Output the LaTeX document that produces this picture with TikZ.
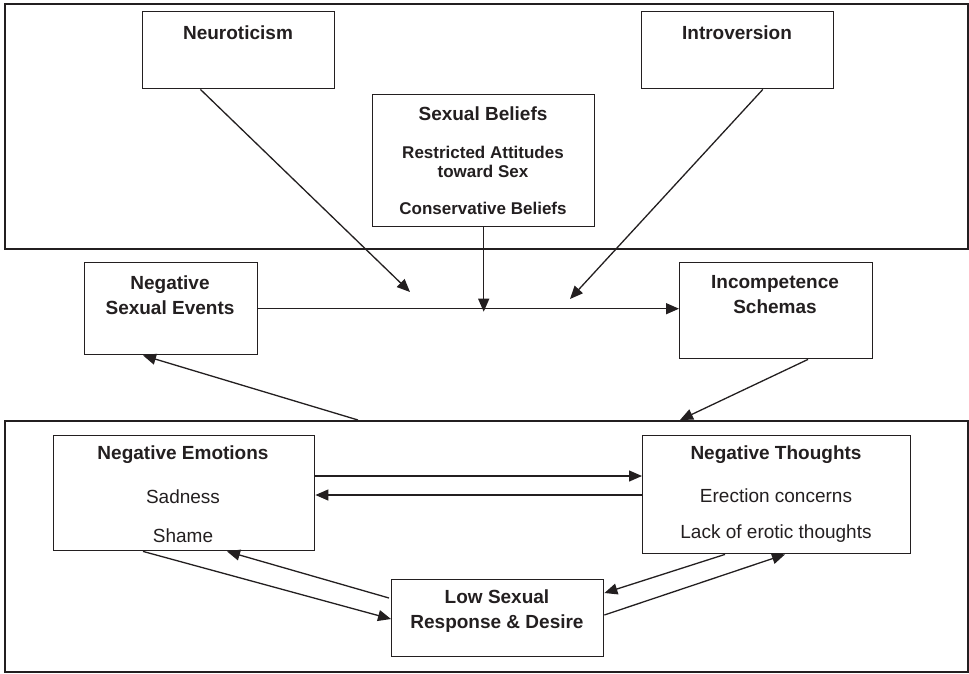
\documentclass[tikz,border=0pt]{standalone}
\usepackage{fontspec}
\setmainfont{Liberation Sans}
\usetikzlibrary{arrows.meta,calc}
\definecolor{ink}{HTML}{231F20}
\begin{document}
\begin{tikzpicture}[x=1pt,y=-1pt,
  frame/.style={draw=ink,line width=2pt},
  box/.style={draw=ink,line width=1.4pt,rectangle,inner sep=0pt,anchor=north west},
  head/.style={text=ink,inner sep=0pt,font=\fontsize{19}{25}\selectfont\bfseries,align=center},
  sub/.style={text=ink,inner sep=0pt,font=\fontsize{17}{18.5}\selectfont\bfseries,align=center},
  item/.style={text=ink,inner sep=0pt,font=\fontsize{19}{23}\selectfont,align=center},
  arr/.style={draw=ink,line width=1.3pt,-{Triangle[length=13pt,width=11pt]}}]
\useasboundingbox (0,0) rectangle (969,673);
\fill[white] (0,0) rectangle (969,673);
% frames
\node[box,frame,minimum width=963pt,minimum height=245pt] (topf) at (4,3) {};
\node[box,frame,minimum width=963pt,minimum height=251pt] (botf) at (4,420) {};
% boxes
\node[box,minimum width=192pt,minimum height=77pt] (neur) at (142,11) {};
\node[box,minimum width=192pt,minimum height=77pt] (intro) at (641,11) {};
\node[box,minimum width=222pt,minimum height=132pt] (bel) at (372,94) {};
\node[box,minimum width=173pt,minimum height=92pt] (nse) at (84,262) {};
\node[box,minimum width=193pt,minimum height=96pt] (inc) at (679,262) {};
\node[box,minimum width=261pt,minimum height=115pt] (nemo) at (53,435) {};
\node[box,minimum width=268pt,minimum height=118pt] (nth) at (642,435) {};
\node[box,minimum width=212pt,minimum height=77pt] (low) at (391,579) {};
% texts
\node[head] (tneur) at (238,33) {Neuroticism};
\node[head] (tintro) at (737,33) {Introversion};
\node[head] (tbel) at (483,114) {Sexual Beliefs};
\node[sub] (tbel2) at (483,162) {Restricted Attitudes\\toward Sex};
\node[sub] (tbel3) at (483,208) {Conservative Beliefs};
\node[head] (tnse) at (170,295) {Negative\\Sexual Events};
\node[head] (tinc) at (775,295) {Incompetence\\Schemas};
\node[head] (tnemo) at (183,455) {Negative Emotions};
\node[item] (tnemo2) at (183,497) {Sadness};
\node[item] (tnemo3) at (183,536) {Shame};
\node[head] (tnth) at (776,455) {Negative Thoughts};
\node[item] (tnth2) at (776,496) {Erection concerns};
\node[item] (tnth3) at (776,534) {Lack of erotic thoughts};
\node[head] (tlow) at (497,611) {Low Sexual\\Response \& Desire};
% free ends
\coordinate (m1) at (410,292);
\coordinate (m2) at (570,299);
% connectors
\draw[arr] ($(neur.south west)!0.302!(neur.south east)$) -- (m1);
\draw[arr] ($(intro.south west)!0.630!(intro.south east)$) -- (m2);
\draw[arr] (bel.south) -- ($(bel.south |- nse.east)+(0,3)$);
\draw[arr] (nse.east) -- (nse.east -| inc.west);
\draw[arr] ($(botf.north west)+(354,0)$) -- ($(nse.south west)+(59,0)$);
\draw[arr] ($(inc.south west)+(129,0)$) -- ($(botf.north west)+(676,0)$);
\draw[arr] ($(nemo.north east)+(0,41)$) -- ($(nth.north west)+(0,41)$);
\draw[arr] ($(nth.north west)+(0,60)$) -- ($(nemo.north east)+(0,60)$);
\draw[arr] ($(nemo.south west)+(90,0)$) -- ($(low.north west)+(0,40)$);
\draw[arr] ($(low.north west)+(-2,19)$) -- ($(nemo.south west)+(174,0)$);
\draw[arr] ($(low.north east)+(0,36)$) -- ($(nth.south west)+(143,0)$);
\draw[arr] ($(nth.south west)+(83,0)$) -- ($(low.north east)+(0,14)$);
\end{tikzpicture}
\end{document}
